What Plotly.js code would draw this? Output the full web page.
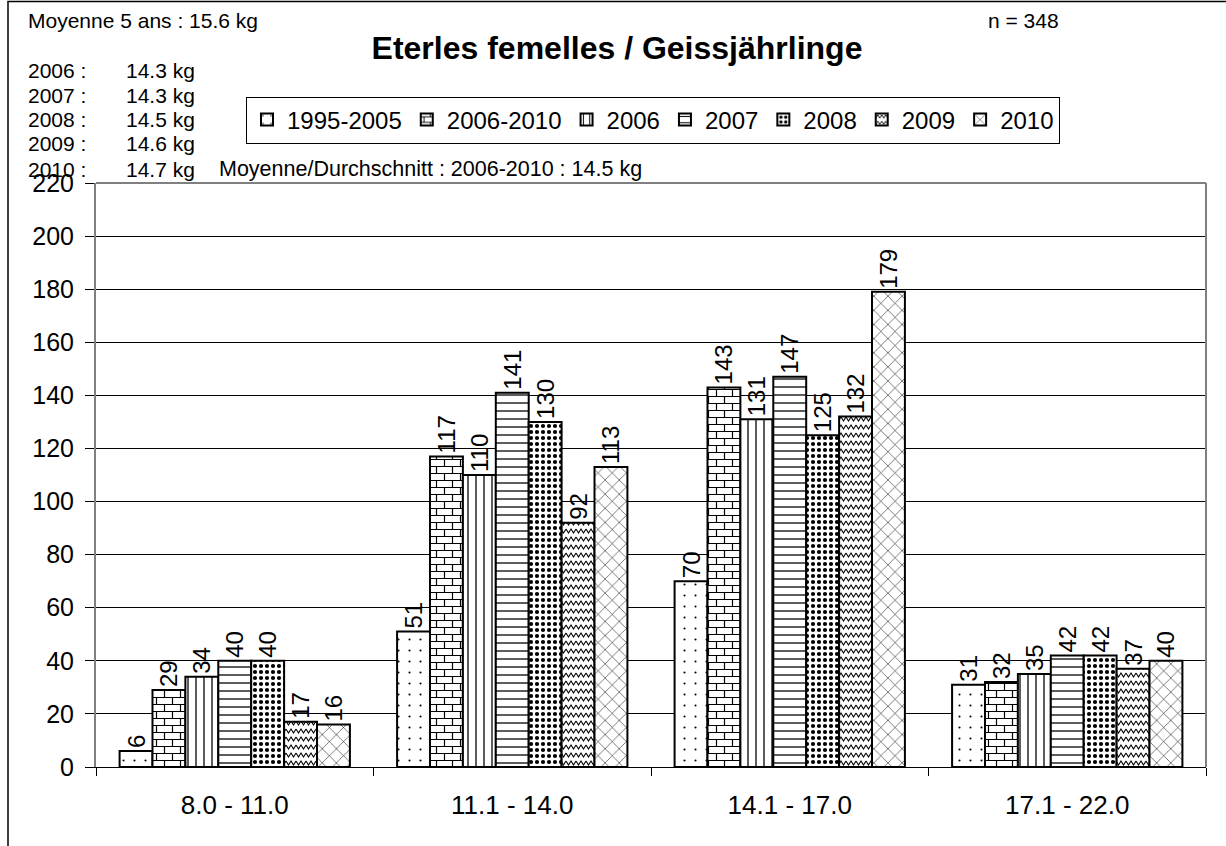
<!DOCTYPE html>
<html>
<head>
<meta charset="utf-8">
<script src="https://cdn.plot.ly/plotly-3.0.1.min.js"></script>
<style>
  html, body { margin: 0; padding: 0; background: #fff; }
  #chart { width: 1226px; height: 846px; }
</style>
</head>
<body>
<div id="chart"></div>
<script>
// ---- data ----
const categories = ["8.0 - 11.0", "11.1 - 14.0", "14.1 - 17.0", "17.1 - 22.0"];
const seriesNames = ["1995-2005", "2006-2010", "2006", "2007", "2008", "2009", "2010"];
const v1995_2005 = [6, 51, 70, 31];
const v2006_2010 = [29, 117, 143, 32];
const v2006 = [34, 110, 131, 35];
const v2007 = [40, 141, 147, 42];
const v2008 = [40, 130, 125, 42];
const v2009 = [17, 92, 132, 37];
const v2010 = [16, 113, 179, 40];
const seriesValues = [v1995_2005, v2006_2010, v2006, v2007, v2008, v2009, v2010];

const chartTitle = "Eterles femelles / Geissjährlinge";
const topLeftNote = "Moyenne 5 ans : 15.6 kg";
const topRightNote = "n = 348";
const yearLabels = ["2006 :", "2007 :", "2008 :", "2009 :", "2010 :"];
const yearMeans = ["14.3 kg", "14.3 kg", "14.5 kg", "14.6 kg", "14.7 kg"];
const meanNote = "Moyenne/Durchschnitt : 2006-2010 : 14.5 kg";

// ---- styles ----
const patterns = [
  {shape: ".", size: 11, solidity: 0.03},
  {shape: "+", size: 9, solidity: 0.15},
  {shape: "|", size: 8, solidity: 0.16},
  {shape: "-", size: 8, solidity: 0.16},
  {shape: ".", size: 6, solidity: 0.38},
  {shape: "/", size: 8, solidity: 0.15},
  {shape: "x", size: 10, solidity: 0.1}
];

const FONT = "Liberation Sans, Arial, sans-serif";

const traces = seriesNames.map((name, i) => ({
  type: "bar",
  name: name,
  x: categories,
  y: seriesValues[i],
  text: seriesValues[i].map(String),
  textposition: "outside",
  textangle: -90,
  textfont: {family: FONT, size: 24, color: "#000"},
  constraintext: "none",
  cliponaxis: false,
  marker: {
    color: "#fff",
    line: {color: "#000", width: 2},
    pattern: Object.assign({fgcolor: "#000", bgcolor: "#fff", fillmode: "replace"}, patterns[i])
  },
  hoverinfo: "x+y+name"
}));

// pixel -> paper helpers (plot area: x 96..1206, y 183..767)
const L = 96, R = 1206, T = 183, B = 767;
const px = x => (x - L) / (R - L);
const py = y => (B - y) / (B - T);

const annotations = [];
function note(text, x, y, size, anchor) {
  annotations.push({
    text: text, xref: "paper", yref: "paper", x: px(x), y: py(y),
    xanchor: anchor || "left", yanchor: "middle", showarrow: false,
    font: {family: FONT, size: size, color: "#000"}
  });
}
note(topLeftNote, 26, 21, 21);
note(topRightNote, 986, 21, 21);
const rowY = [71, 95, 119, 144, 169];
yearLabels.forEach((t, i) => note(t, 26, rowY[i], 21));
yearMeans.forEach((t, i) => note(t, 124, rowY[i], 21));
note(meanNote, 217, 169, 21.5);

const shapes = [
  // outer frame
  {type: "rect", xref: "paper", yref: "paper", x0: px(8), x1: px(1300), y0: py(1000), y1: py(1.5),
   line: {color: "#000", width: 1.5}, fillcolor: "rgba(0,0,0,0)", layer: "below"},
  // plot border top & right
  {type: "line", xref: "paper", yref: "paper", x0: 0, x1: 1, y0: 1, y1: 1, line: {color: "#808080", width: 2}},
  {type: "line", xref: "paper", yref: "paper", x0: 1, x1: 1, y0: 0, y1: 1, line: {color: "#808080", width: 2}}
];

const layout = {
  width: 1226, height: 846,
  margin: {l: L, r: 1226 - R, t: T, b: 846 - B, pad: 0},
  paper_bgcolor: "#fff", plot_bgcolor: "#fff",
  font: {family: FONT, color: "#000"},
  title: {
    text: "<b>" + chartTitle + "</b>",
    font: {family: FONT, size: 32, color: "#000"},
    xref: "container", yref: "container",
    x: 617 / 1226, y: 1 - 48 / 846, xanchor: "center", yanchor: "middle"
  },
  barmode: "group",
  bargap: 0.17,
  bargroupgap: 0,
  showlegend: true,
  legend: {
    orientation: "h",
    x: px(246), y: py(120), xanchor: "left", yanchor: "middle",
    bordercolor: "#000", borderwidth: 1, bgcolor: "#fff",
    font: {family: FONT, size: 24, color: "#000"},
    itemwidth: 30, traceorder: "normal"
  },
  xaxis: {
    type: "category",
    showline: true, linecolor: "#000", linewidth: 1,
    ticks: "outside", tickson: "boundaries", ticklen: 8, tickcolor: "#000",
    tickfont: {family: FONT, size: 26, color: "#000"},
    ticklabelstandoff: 15,
    showgrid: false, zeroline: false
  },
  yaxis: {
    range: [0, 220], dtick: 20, tick0: 0,
    showline: true, linecolor: "#808080", linewidth: 2,
    ticks: "outside", ticklen: 9, tickcolor: "#000",
    tickfont: {family: FONT, size: 25, color: "#000"},
    ticklabelstandoff: 6,
    showgrid: true, gridcolor: "#000", gridwidth: 1,
    zeroline: false
  },
  annotations: annotations,
  shapes: shapes
};

// custom pattern tiles for brick and wave fills (restyle the library's own pattern defs)
const SVGNS = "http://www.w3.org/2000/svg";
function retile(traceIndex, w, h, d, sw) {
  const gd = document.getElementById("chart");
  const ids = new Set();
  const collect = el => {
    const f = (el.style && el.style.fill) || el.getAttribute("fill") || "";
    const m = f.match(/#([^"')]+)/);
    if (m) ids.add(m[1]);
  };
  const bars = gd.querySelectorAll(".barlayer .trace.bars")[traceIndex];
  if (bars) bars.querySelectorAll("path").forEach(collect);
  const leg = gd.querySelectorAll(".legend .traces")[traceIndex];
  if (leg) leg.querySelectorAll("path").forEach(collect);
  ids.forEach(id => {
    const pat = document.getElementById(id);
    if (!pat) return;
    pat.setAttribute("width", w);
    pat.setAttribute("height", h);
    while (pat.firstChild) pat.removeChild(pat.firstChild);
    const r = document.createElementNS(SVGNS, "rect");
    r.setAttribute("width", w); r.setAttribute("height", h); r.setAttribute("fill", "#fff");
    pat.appendChild(r);
    const p = document.createElementNS(SVGNS, "path");
    p.setAttribute("d", d);
    p.setAttribute("fill", "none");
    p.setAttribute("stroke", "#000");
    p.setAttribute("stroke-width", sw);
    pat.appendChild(p);
  });
}

Plotly.newPlot("chart", traces, layout, {displayModeBar: false, staticPlot: true}).then(() => {
  // bricks for 2006-2010
  retile(1, 16, 14, "M0,3.5 H16 M0,10.5 H16 M4.5,3.5 V10.5 M12.5,10.5 V14 M12.5,0 V3.5", 1.2);
  // waves for 2009
  retile(5, 10, 8, "M0,2 L2.5,6 L5,2 L7.5,6 L10,2", 1.1);
});
</script>
</body>
</html>
